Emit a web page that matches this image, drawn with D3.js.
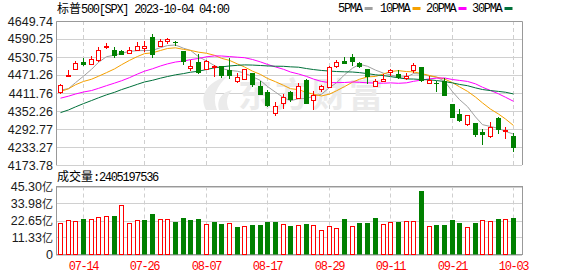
<!DOCTYPE html>
<html lang="zh">
<head>
<meta charset="UTF-8">
<title>标普500 日K</title>
<script src="https://d3js.org/d3.v7.min.js"></script>
<style>
  body { margin: 0; background: #fff; }
  svg { display: block; }
  .ylab { font: 12.5px "Liberation Sans", Arial, sans-serif; fill: #1a1a1a; }
  .mono { font-family: "Liberation Mono", "Noto Sans CJK SC", monospace; font-size: 12px; letter-spacing: -1.3px; }
  .cjk { font-family: "Noto Sans CJK SC", sans-serif; font-size: 12px; letter-spacing: 0; }
</style>
</head>
<body>
<svg id="chart" width="578" height="276"></svg>
<script>
// trading days shown (2023)
const dates = ["07-11","07-12","07-13","07-14","07-17","07-18","07-19","07-20","07-21","07-24",
  "07-25","07-26","07-27","07-28","07-31","08-01","08-02","08-03","08-04","08-07",
  "08-08","08-09","08-10","08-11","08-14","08-15","08-16","08-17","08-18","08-21",
  "08-22","08-23","08-24","08-25","08-28","08-29","08-30","08-31","09-01","09-05",
  "09-06","09-07","09-08","09-11","09-12","09-13","09-14","09-15","09-18","09-19",
  "09-20","09-21","09-22","09-25","09-26","09-27","09-28","09-29","10-02","10-03"];

const opens = [4415.55,4467.69,4491.50,4514.61,4508.86,4521.78,4563.87,4554.38,4550.16,4543.39,
  4555.19,4558.96,4598.26,4565.75,4584.82,4578.83,4550.93,4494.27,4513.96,4491.58,
  4498.03,4501.57,4487.16,4450.69,4458.13,4478.87,4433.79,4416.32,4344.88,4380.28,
  4415.33,4396.44,4455.16,4389.38,4426.03,4432.75,4500.34,4517.01,4530.60,4510.06,
  4490.35,4434.55,4451.30,4480.98,4473.27,4462.65,4487.78,4497.98,4445.13,4445.41,
  4452.81,4374.36,4341.74,4310.62,4312.88,4282.63,4269.65,4328.18,4284.52,4269.75];
const highs = [4441.20,4488.34,4517.38,4527.76,4532.85,4562.30,4578.43,4564.74,4555.00,4563.41,
  4580.62,4582.47,4607.07,4590.16,4594.22,4584.62,4550.93,4519.49,4540.34,4519.84,
  4503.31,4502.44,4527.37,4476.23,4490.33,4478.87,4449.95,4421.17,4381.82,4407.55,
  4418.59,4443.18,4458.30,4418.46,4439.56,4500.14,4521.65,4532.26,4541.25,4514.29,
  4490.35,4457.81,4473.53,4490.77,4487.11,4479.39,4511.99,4497.98,4466.36,4449.85,
  4461.03,4375.70,4357.40,4338.51,4313.01,4292.07,4317.27,4333.15,4300.58,4281.15];
const lows = [4408.46,4463.23,4489.36,4499.56,4504.90,4514.59,4557.48,4527.56,4535.79,4541.29,
  4552.42,4547.58,4528.56,4564.01,4573.14,4567.53,4505.75,4485.54,4474.55,4491.15,
  4464.39,4461.33,4457.92,4443.98,4453.44,4432.19,4403.55,4364.83,4335.31,4360.30,
  4382.77,4396.44,4375.55,4356.29,4414.98,4431.68,4493.59,4507.39,4501.35,4496.01,
  4442.38,4430.46,4448.38,4467.89,4456.83,4453.52,4478.69,4447.21,4442.11,4416.61,
  4401.38,4329.17,4316.49,4302.70,4265.98,4238.63,4264.38,4274.86,4260.21,4216.45];
const closes = [4439.26,4472.16,4510.04,4505.42,4522.79,4554.98,4565.72,4534.87,4536.34,4554.64,
  4567.46,4566.75,4537.41,4582.23,4588.96,4576.73,4513.39,4501.89,4478.03,4518.44,
  4499.38,4467.71,4468.83,4464.05,4489.72,4437.86,4404.33,4370.36,4369.71,4399.77,
  4387.55,4436.01,4376.31,4405.71,4433.31,4497.63,4514.87,4507.66,4515.77,4496.83,
  4465.48,4451.14,4457.49,4487.46,4461.90,4467.44,4505.10,4450.32,4453.53,4443.95,
  4402.20,4330.00,4320.06,4337.44,4273.53,4274.51,4299.70,4288.05,4288.39,4229.45];
// closes of the 29 sessions before 07-11, needed for the moving averages
const priorCloses = [4205.45,4205.52,4179.83,4221.02,4282.37,4273.79,4283.85,4267.52,4293.93,4298.86,
  4338.93,4369.01,4372.59,4425.84,4409.59,4388.71,4365.69,4381.89,4348.33,4328.82,
  4378.41,4376.86,4396.44,4450.38,4455.59,4446.82,4411.59,4398.95,4409.53];
// volume in 亿
const volumes = [20.8,22.8,22.2,23.7,23.5,24.8,25.5,25.7,32.9,20.8,
  22.8,22.8,27.1,23.5,23.5,21.7,24.4,23.0,23.7,20.2,
  21.7,20.4,20.8,18.4,18.8,19.7,19.7,21.7,21.7,20.2,
  19.0,19.5,20.4,19.5,16.2,18.8,17.5,23.7,18.8,21.0,
  21.0,24.4,20.2,21.5,21.7,22.2,22.2,42.4,18.8,19.7,
  19.7,23.0,21.0,18.2,21.0,22.8,22.4,23.7,23.5,24.05];
const lastVolume = "2405197536";

const priceTicks = [4649.74,4590.25,4530.75,4471.26,4411.76,4352.26,4292.77,4233.27,4173.78];
const volTicks = [45.30,33.98,22.65,11.33,0];
const xTicks = ["07-14","07-26","08-07","08-17","08-29","09-11","09-21","10-03"];
const maPeriods = [5,10,20,30];
const maNames = ["5PMA","10PMA","20PMA","30PMA"];
const maColors = ["#a0a0a0","#f5a000","#ff00ff","#00703a"];

const UP = "#ff0000", DOWN = "#008000";
const svg = d3.select("#chart");
const L = 56, R = 522;

const x = d3.scaleBand().domain(dates).range([L, 517]).paddingInner(0.35).paddingOuter(0.175);
const cx = d => Math.round(x(d) + x.bandwidth() / 2) + 0.5;
const y = d3.scaleLinear().domain([4173.78, 4649.74]).range([165, 21]);
const yv = d3.scaleLinear().domain([0, 45.30]).range([254.5, 186.5]);

const allCloses = priorCloses.concat(closes);
const maSeries = maPeriods.map(p => closes.map((c, i) => {
  const end = priorCloses.length + i + 1;
  return d3.mean(allCloses.slice(end - p, end));
}));

// grid
const grid = svg.append("g");
grid.selectAll(".hp").data(priceTicks).enter().append("line")
  .attr("x1", L).attr("x2", R)
  .attr("y1", d => Math.round(y(d)) + 0.5).attr("y2", d => Math.round(y(d)) + 0.5)
  .attr("stroke", "#d0d0d0");
grid.selectAll(".hv").data(volTicks).enter().append("line")
  .attr("x1", L).attr("x2", R)
  .attr("y1", d => Math.round(yv(d)) + 0.5).attr("y2", d => Math.round(yv(d)) + 0.5)
  .attr("stroke", "#d0d0d0");
[[21, 165], [186.5, 254.5]].forEach(r => {
  grid.selectAll(null).data(xTicks).enter().append("line")
    .attr("x1", d => cx(d)).attr("x2", d => cx(d))
    .attr("y1", r[0]).attr("y2", r[1])
    .attr("stroke", "#cfcfcf").attr("stroke-dasharray", "4,3");
});

// watermark
const wm = svg.append("g").attr("fill", "#ebebeb");
wm.append("path").attr("d", "M206,110 C199,96 206,82 228,76 C216,86 212,97 217,110 Z");
wm.append("path").attr("d", "M219,110 C216,100 222,92 232,90 C226,97 226,103 229,110 Z");
wm.append("text").attr("x", 238).attr("y", 107)
  .style("font", "bold 34px 'Noto Sans CJK SC', sans-serif").style("letter-spacing", "3px")
  .text("东方财富");

// frames
const frame = svg.append("g").attr("fill", "none").attr("stroke", "#999");
frame.append("path").attr("d", `M${L + 0.5},165 V21.5 H${R + 0.5} V165`);
frame.append("rect").attr("x", L + 0.5).attr("y", 186.5).attr("width", R - L).attr("height", 68);

// moving averages
const line = d3.line().x((d, i) => cx(dates[i])).y(d => y(d));
svg.append("g").selectAll("path").data(maSeries).enter().append("path")
  .attr("d", line).attr("fill", "none").attr("stroke-width", 1)
  .attr("stroke", (d, i) => maColors[i]);

// candles
const bw = 5;
const candles = svg.append("g").selectAll("g").data(dates).enter().append("g");
candles.each(function(d, i) {
  const g = d3.select(this);
  const up = closes[i] >= opens[i];
  const col = up ? UP : DOWN;
  const c = cx(d);
  const top = Math.round(y(Math.max(opens[i], closes[i])));
  const bot = Math.round(y(Math.min(opens[i], closes[i])));
  const yh = Math.round(y(highs[i])), yl = Math.round(y(lows[i]));
  g.append("line").attr("x1", c).attr("x2", c).attr("y1", yh).attr("y2", top).attr("stroke", col);
  g.append("line").attr("x1", c).attr("x2", c).attr("y1", bot).attr("y2", yl).attr("stroke", col);
  if (up) {
    g.append("rect").attr("x", c - 2).attr("y", top + 0.5)
      .attr("width", bw - 1).attr("height", Math.max(bot - top, 1))
      .attr("fill", "#fff").attr("stroke", col);
  } else {
    g.append("rect").attr("x", c - 2.5).attr("y", top)
      .attr("width", bw).attr("height", Math.max(bot - top, 1)).attr("fill", col);
  }
});

// volume
svg.append("g").selectAll("rect").data(dates).enter().append("rect")
  .each(function(d, i) {
    const prev = i === 0 ? priorCloses[priorCloses.length - 1] : closes[i - 1];
    const up = closes[i] >= prev;
    const c = cx(d);
    const t = Math.round(yv(volumes[i]));
    const r = d3.select(this);
    if (up) {
      r.attr("x", c - 2).attr("y", t + 0.5).attr("width", bw - 1).attr("height", 254 - t)
        .attr("fill", "#fff").attr("stroke", UP);
    } else {
      r.attr("x", c - 2.5).attr("y", t).attr("width", bw).attr("height", 254.5 - t).attr("fill", DOWN);
    }
  });

// axis labels
svg.append("g").selectAll("text").data(priceTicks).enter().append("text")
  .attr("class", "ylab").attr("x", 53).attr("y", d => y(d) + 4.5)
  .attr("text-anchor", "end").text(d => d.toFixed(2));
const vl = svg.append("g").selectAll("text").data(volTicks).enter().append("text")
  .attr("class", "ylab").attr("x", 53).attr("y", d => yv(d) + 4.5).attr("text-anchor", "end");
vl.append("tspan").text(d => d === 0 ? "0" : d.toFixed(2));
vl.filter(d => d !== 0).append("tspan").style("font-family", "'Noto Sans CJK SC'")
  .style("font-size", "11px").text("亿");

svg.append("g").selectAll("text").data(xTicks).enter().append("text")
  .attr("class", "mono").attr("x", d => cx(d)).attr("y", 270)
  .attr("text-anchor", "middle").attr("fill", UP).text(d => d);

// titles
const title = svg.append("text").attr("class", "mono").attr("x", 57).attr("y", 13);
title.append("tspan").attr("class", "cjk").text("标普");
title.append("tspan").text("500[SPX] 2023-10-04 04:00");

const vt = svg.append("text").attr("class", "mono").attr("x", 57).attr("y", 181);
vt.append("tspan").attr("class", "cjk").text("成交量");
vt.append("tspan").text(":" + lastVolume);

// legend
const legX = [338, 380, 426, 472];
const leg = svg.append("g").selectAll("g").data(maNames).enter().append("g")
  .attr("transform", (d, i) => `translate(${legX[i]},0)`);
leg.append("text").attr("class", "mono").attr("y", 12).text(d => d);
leg.append("rect").attr("x", d => d.length * 5.9 + 3).attr("y", 7)
  .attr("width", 8).attr("height", 3).attr("fill", (d, i) => maColors[i]);
</script>
</body>
</html>
